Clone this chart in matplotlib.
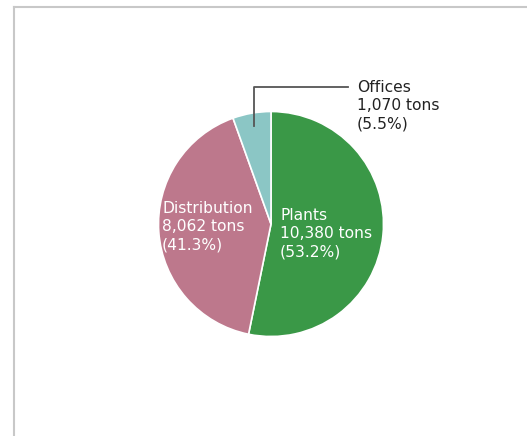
import matplotlib.pyplot as plt

plt.rcParams['font.family'] = ['DejaVu Sans']

labels = ["Plants", "Distribution", "Offices"]
tons = [10380, 8062, 1070]
shares = [53.2, 41.3, 5.5]
colors = ["#3a9847", "#bd788c", "#8bc6c5"]

W, H = 527, 436
fig = plt.figure(figsize=(W / 100, H / 100), dpi=100)
ax = fig.add_axes([0, 0, 1, 1])

# frame lines (top and left only)
ax.plot([13.5, W], [H - 7.5, H - 7.5], color="#c8c8c8", lw=1.5)
ax.plot([13.5, 13.5], [0, H - 7.5], color="#c8c8c8", lw=1.5)

cx, cy, r = 271, H - 224, 112.5
ax.pie(tons, colors=colors, startangle=90, counterclock=False,
       center=(cx, cy), radius=r, frame=True,
       wedgeprops=dict(edgecolor="white", linewidth=1.2))
ax.set_xlim(0, W)
ax.set_ylim(0, H)
ax.set_aspect('equal')
ax.axis('off')

def lab(i):
    return "{}\n{:,} tons\n({}%)".format(labels[i], tons[i], shares[i])

fs = 11.2
ls = 1.28
ax.text(280, H - 234, lab(0), color="white", fontsize=fs, va="center",
        ha="left", linespacing=ls)
ax.text(162, H - 227, lab(1), color="white", fontsize=fs, va="center",
        ha="left", linespacing=ls)

# leader line for offices
ax.plot([254, 254, 348], [H - 126, H - 87, H - 87], color="#555555", lw=1.3)
ax.text(357, H - 106, lab(2), color="#222222", fontsize=fs, va="center",
        ha="left", linespacing=ls)

fig.savefig("out.png", dpi=100)
